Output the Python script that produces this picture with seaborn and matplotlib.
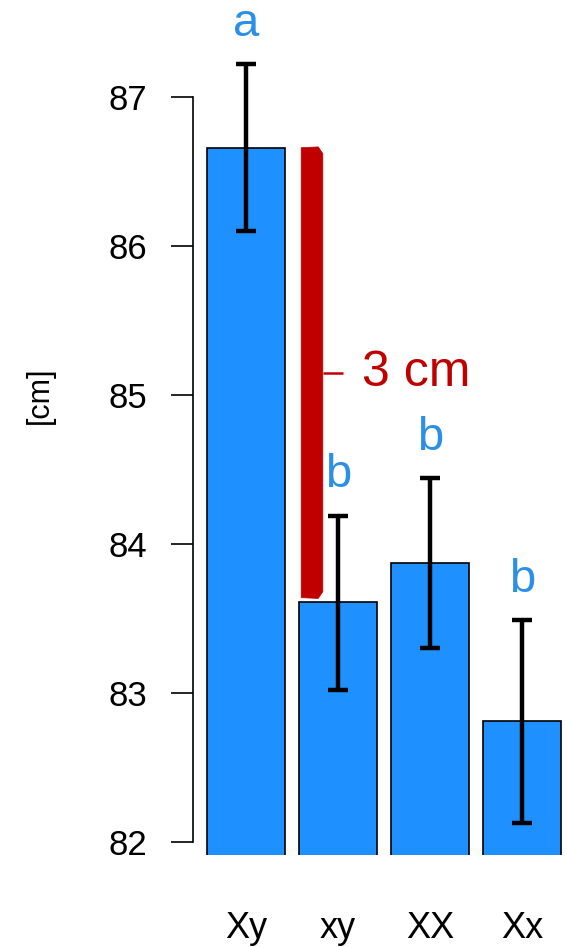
import matplotlib
matplotlib.use("Agg")
import matplotlib.pyplot as plt
from matplotlib.patches import Polygon
import numpy as np
import pandas as pd
import seaborn as sns

# values
groups = ["Xy", "xy", "XX", "Xx"]
means = [86.66, 83.61, 83.87, 82.81]
err_low = [86.10, 83.02, 83.30, 82.13]
err_high = [87.22, 84.19, 84.44, 83.49]
letters = ["a", "b", "b", "b"]
yticks = [82, 83, 84, 85, 86, 87]
diff_label = "3 cm"
bracket_top = 86.66
bracket_bottom = 83.64
ylabel = "[cm]"

BAR_BLUE = "#1e90ff"
LETTER_BLUE = "#2b8fe8"
RED = "#c00000"

sns.set_style("white")
plt.rcParams["font.family"] = ["Liberation Sans", "DejaVu Sans"]

df = pd.DataFrame({"group": groups, "mean": means})

fig = plt.figure(figsize=(5.67, 9.47), dpi=100)
ax = fig.add_axes([193 / 567, 92 / 947, 374 / 567, 855 / 947])

sns.barplot(data=df, x="group", y="mean", color=BAR_BLUE, saturation=1,
            edgecolor="black", linewidth=1.2, width=0.85, errorbar=None, ax=ax)

x = np.arange(len(groups))
lo = np.array(means) - np.array(err_low)
hi = np.array(err_high) - np.array(means)
ax.errorbar(x, means, yerr=[lo, hi], fmt="none", ecolor="black",
            elinewidth=3.2, capsize=7, capthick=3.2, clip_on=False, zorder=5)

# significance letters
for xi, up, lt in zip(x, err_high, letters):
    ax.text(xi, up + 0.27, lt, color=LETTER_BLUE, fontsize=34,
            ha="center", va="center", clip_on=False)

ax.set_xlim(-0.576, 3.489)
ax.set_ylim(81.913, 87.651)
ax.set_yticks(yticks)
ax.set_yticklabels([str(t) for t in yticks], fontsize=25, color="black")
ax.tick_params(axis="y", length=16, width=1.2, pad=17, direction="out", left=True,
               colors="black")
ax.tick_params(axis="x", length=0, pad=40, labelsize=26, colors="black")
ax.set_xlabel("")
ax.set_ylabel(ylabel, fontsize=22, color="black")
ax.yaxis.set_label_coords(-0.37, 0.538)

for s in ["top", "right", "bottom"]:
    ax.spines[s].set_visible(False)
ax.spines["left"].set_bounds(82, 87)
ax.spines["left"].set_linewidth(1.2)
ax.spines["left"].set_color("black")

# red bracket showing the difference between Xy and xy
bx0, bx1 = 0.60, 0.835
curve = 0.04
pts = [(bx0, bracket_top), (bx1 - 0.05, bracket_top + 0.005), (bx1, bracket_top - curve),
       (bx1, bracket_bottom + curve), (bx1 - 0.05, bracket_bottom - 0.005),
       (bx0, bracket_bottom)]
ax.add_patch(Polygon(pts, closed=True, facecolor=RED, edgecolor=RED, linewidth=0.5, zorder=4))
mid = 85.15
ax.plot([bx1, bx1 + 0.22], [mid, mid], color=RED, lw=1.8, solid_capstyle="butt", zorder=4)
ax.text(bx1 + 0.43, mid, diff_label, color=RED, fontsize=36, ha="left", va="center")

fig.savefig("out.png", dpi=100)
